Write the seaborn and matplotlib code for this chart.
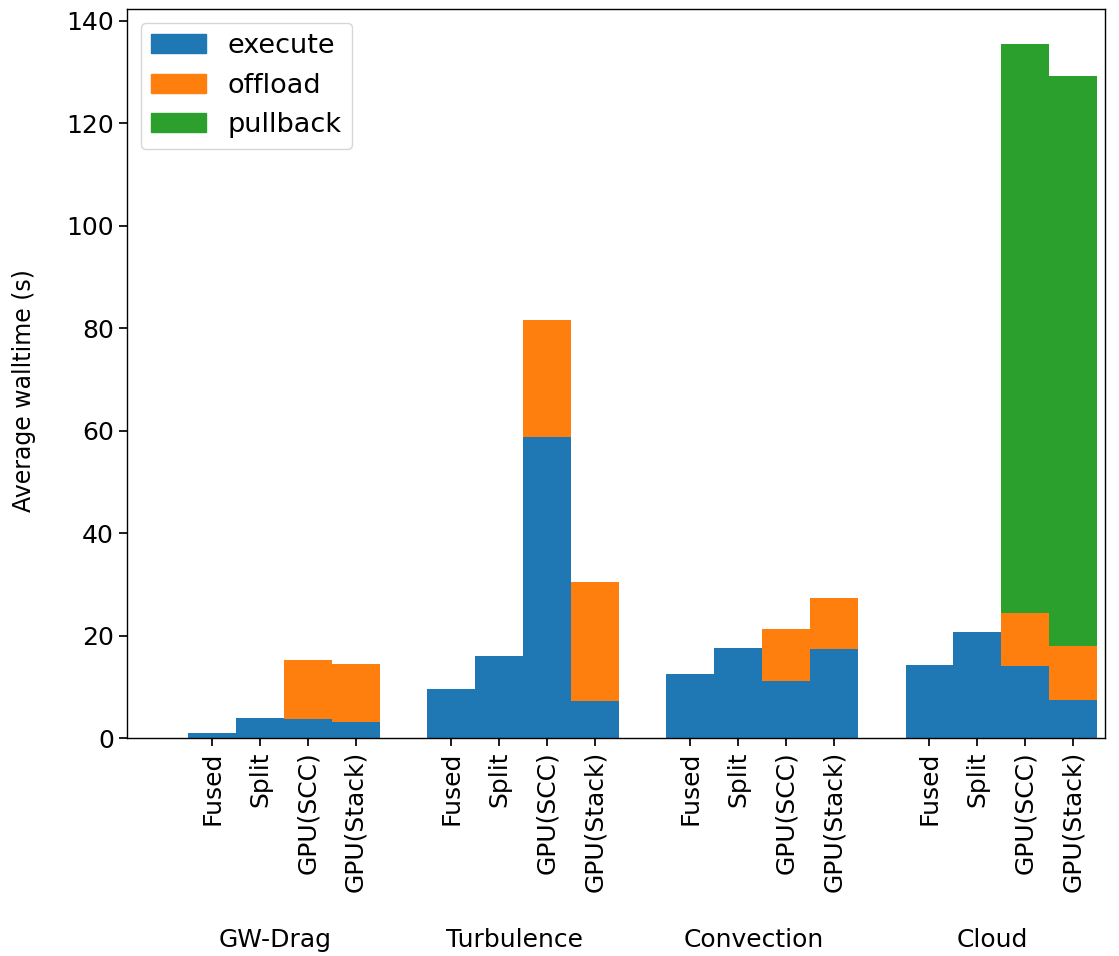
"""Stacked walltime bars per kernel and variant."""

import matplotlib.pyplot as plt
from matplotlib.patches import Patch
import pandas as pd
import seaborn as sns

groups = ["GW-Drag", "Turbulence", "Convection", "Cloud"]
variants = ["Fused", "Split", "GPU(SCC)", "GPU(Stack)"]

# seconds, one value per variant inside each group
execute = [0.9, 3.9, 3.7, 3.2,
           9.6, 16.0, 58.7, 7.3,
           12.5, 17.5, 11.2, 17.3,
           14.2, 20.6, 14.0, 7.5]
offload = [0.0, 0.0, 11.6, 11.3,
           0.0, 0.0, 22.9, 23.1,
           0.0, 0.0, 10.0, 10.0,
           0.0, 0.0, 10.5, 10.5]
pullback = [0.0, 0.0, 0.0, 0.0,
            0.0, 0.0, 0.0, 0.0,
            0.0, 0.0, 0.0, 0.0,
            0.0, 0.0, 111.0, 111.2]

COLORS = {"execute": "#1f77b4", "offload": "#ff7f0e", "pullback": "#2ca02c"}


def build_frame():
    """One row per bar, positions leave an empty slot between groups."""
    rows = []
    for gi, grp in enumerate(groups):
        for vi, var in enumerate(variants):
            i = gi * len(variants) + vi
            rows.append({"pos": gi * (len(variants) + 1) + vi,
                         "group": grp, "variant": var,
                         "execute": execute[i],
                         "offload": offload[i],
                         "pullback": pullback[i]})
    dfrm = pd.DataFrame(rows)
    dfrm["top_off"] = dfrm["execute"] + dfrm["offload"]
    dfrm["top_pull"] = dfrm["top_off"] + dfrm["pullback"]
    return dfrm


def main():
    dfrm = build_frame()
    sns.set_theme(style="ticks")
    plt.rcParams["font.family"] = ["DejaVu Sans"]
    for key in ["text.color", "axes.labelcolor", "xtick.color", "ytick.color"]:
        plt.rcParams[key] = "black"
    fig = plt.figure(figsize=(11.19, 9.56), dpi=100)
    ax = fig.add_axes([0.1135, 0.228, 0.874, 0.7626])

    # draw the stack back to front
    for col, key in [("top_pull", "pullback"), ("top_off", "offload"), ("execute", "execute")]:
        sns.barplot(data=dfrm, x="pos", y=col, native_scale=True, width=1,
                    color=COLORS[key], saturation=1, errorbar=None,
                    linewidth=0, ax=ax)

    ax.set_xticks(dfrm["pos"])
    ax.set_xticklabels(dfrm["variant"], rotation=90, fontsize=18)
    ax.tick_params(axis="y", labelsize=18)
    ax.set_xlim(-1.78, 18.67)
    ax.set_ylim(0, 142.3)
    ax.set_yticks(range(0, 141, 20))
    ax.set_xlabel("")
    ax.set_ylabel("Average walltime (s)", fontsize=17)
    ax.yaxis.set_label_coords(-0.093, 0.477)
    for spine in ax.spines.values():
        spine.set_color("black")
        spine.set_linewidth(1.0)

    # group names under the rotated tick labels
    for gi, grp in enumerate(groups):
        ax.text(gi * (len(variants) + 1) + 1.32, -0.277, grp,
                transform=ax.get_xaxis_transform(),
                ha="center", va="center", fontsize=18)

    handles = [Patch(color=COLORS[k], label=k) for k in ["execute", "offload", "pullback"]]
    ax.legend(handles=handles, loc="upper left", fontsize=19.5, frameon=True)

    fig.savefig("out.png", dpi=100)


if __name__ == "__main__":
    main()
